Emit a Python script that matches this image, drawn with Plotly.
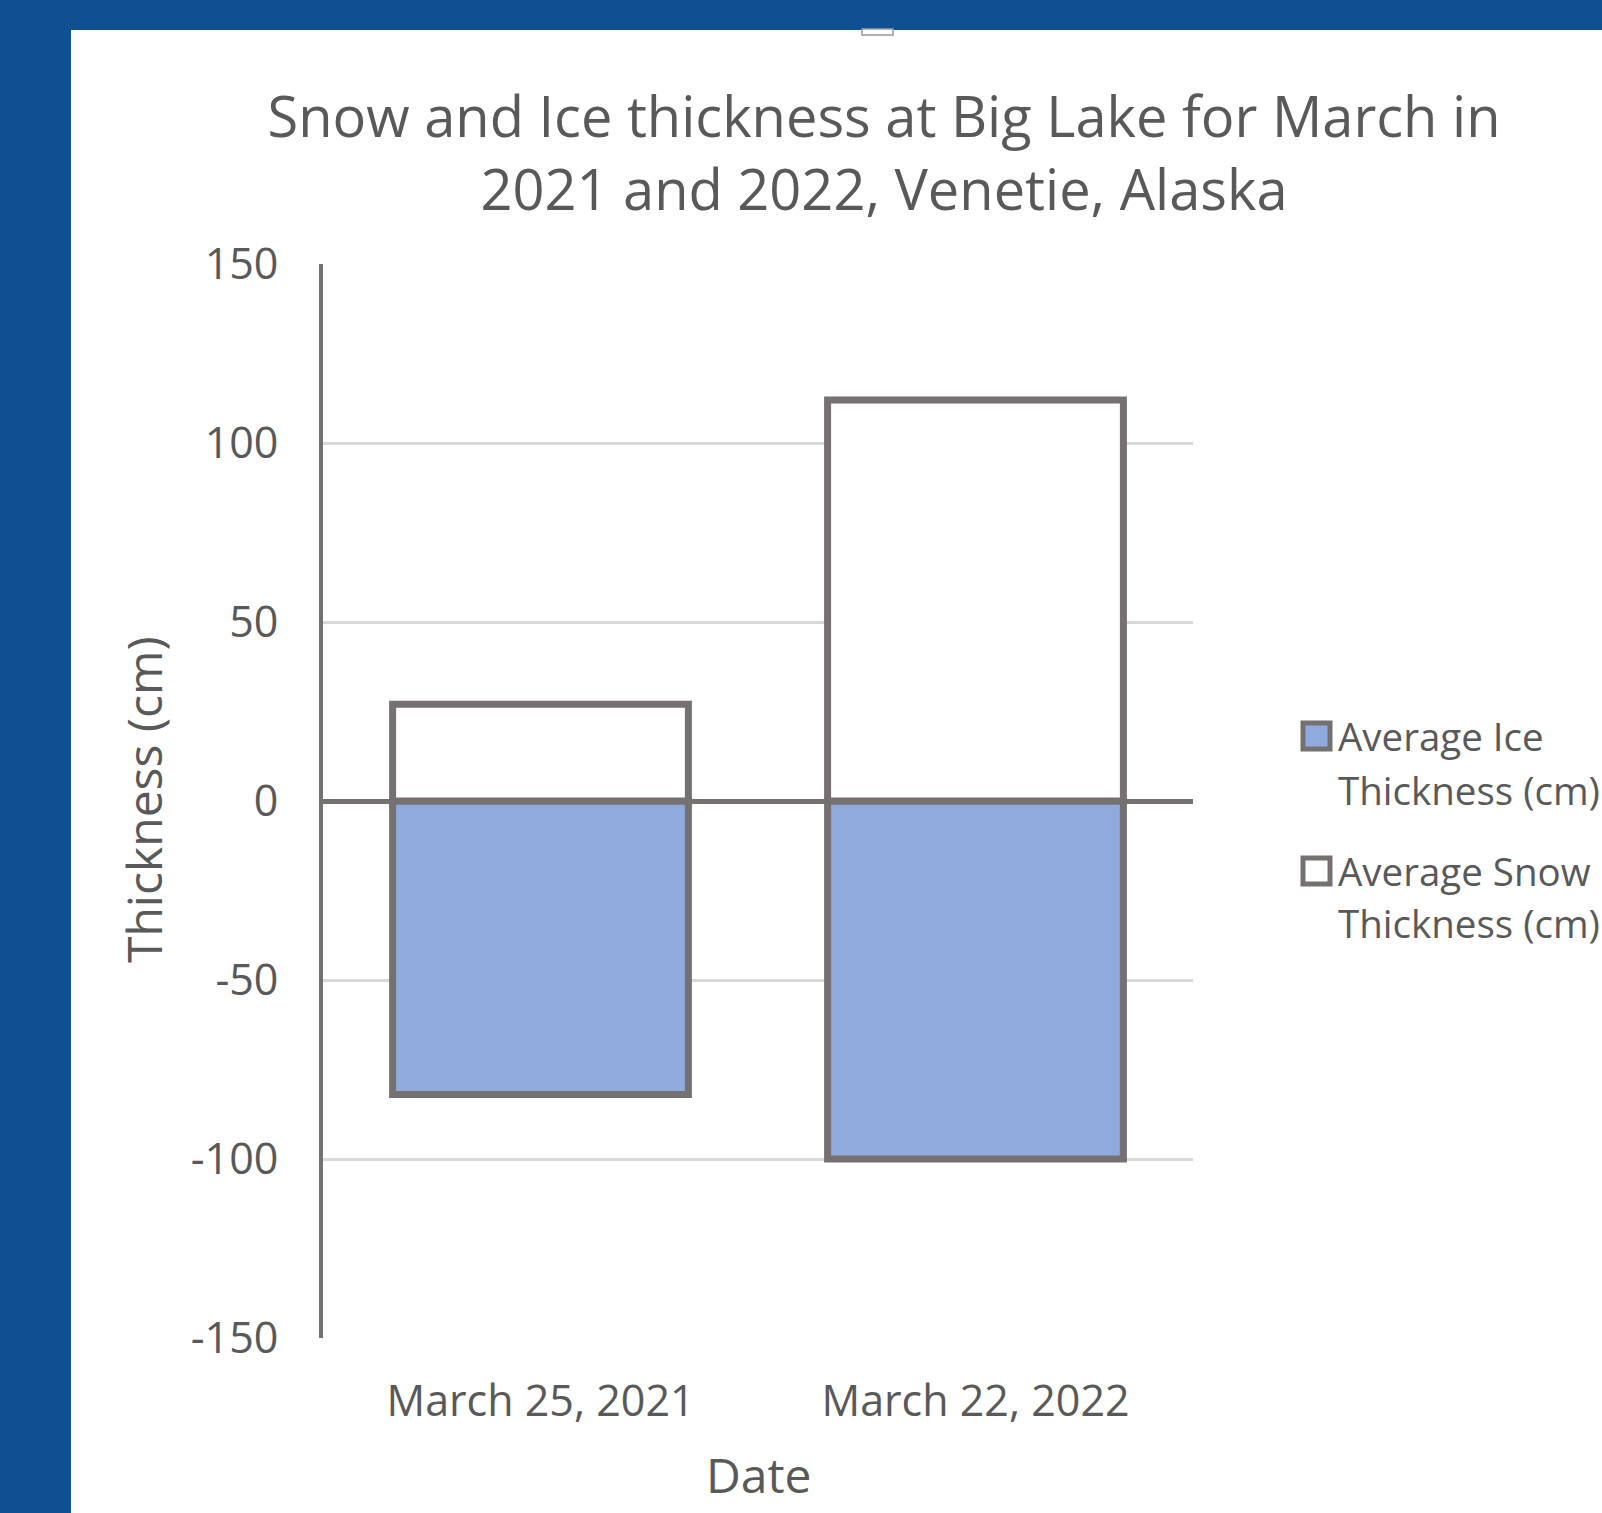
import plotly.graph_objects as go

# Survey dates and average thicknesses (cm); ice is plotted below the zero line
dates = ["March 25, 2021", "March 22, 2022"]
ice_thickness = [-82, -100]
snow_thickness = [27, 112]
series_names = [["Average Ice", "Thickness (cm)"], ["Average Snow", "Thickness (cm)"]]
y_ticks = [-150, -100, -50, 0, 50, 100, 150]
y_tick_text = ["-150", "-100", "-50", "0", "50", "100", "150"]

W, H = 1602, 1513
ML, MR, MT, MB = 323, 409, 264, 175
PW, PH = W - ML - MR, H - MT - MB

FONT = "Open Sans"
TXT = "#595959"
EDGE = "#767171"
ICE_FILL = "#8FAADC"
FRAME = "#0E5092"


def px_x(px):
    return (px - ML) / PW


def px_y(py):
    return (H - MB - py) / PH


fig = go.Figure()
fig.add_bar(x=dates, y=ice_thickness, name=" ".join(series_names[0]),
            marker=dict(color=ICE_FILL, line=dict(color=EDGE, width=7)))
fig.add_bar(x=dates, y=snow_thickness, name=" ".join(series_names[1]),
            marker=dict(color="white", line=dict(color=EDGE, width=7)))

shapes = [
    # dark blue frame around the slide area
    dict(type="rect", xref="paper", yref="paper", x0=px_x(0), x1=px_x(71),
         y0=px_y(H), y1=px_y(0), fillcolor=FRAME, line=dict(width=0), layer="below"),
    dict(type="rect", xref="paper", yref="paper", x0=px_x(0), x1=px_x(W),
         y0=px_y(30), y1=px_y(0), fillcolor=FRAME, line=dict(width=0), layer="below"),
    # small resize handle on the top edge
    dict(type="rect", xref="paper", yref="paper", x0=px_x(862), x1=px_x(893),
         y0=px_y(35), y1=px_y(29), fillcolor="white", line=dict(color="#9a9a9a", width=1.5)),
]

annotations = [
    dict(text="Thickness (cm)", xref="paper", yref="paper", x=px_x(143), y=px_y(800),
         textangle=-90, showarrow=False, xanchor="center", yanchor="middle",
         font=dict(family=FONT, size=48, color=TXT)),
    dict(text="Date", xref="paper", yref="paper", x=px_x(759), y=px_y(1474),
         showarrow=False, xanchor="center", yanchor="middle",
         font=dict(family=FONT, size=48, color=TXT)),
]

# legend: square swatches with two-line labels
legend_rows = [(ICE_FILL, 736, 790), ("white", 871, 923)]
for lines, (fill, y1, y2) in zip(series_names, legend_rows):
    shapes.append(dict(type="rect", xref="paper", yref="paper",
                       x0=px_x(1303), x1=px_x(1330), y0=px_y(y1 + 13), y1=px_y(y1 - 13),
                       fillcolor=fill, line=dict(color=EDGE, width=5)))
    for text, yy in zip(lines, (y1, y2)):
        annotations.append(dict(text=text, xref="paper", yref="paper", x=px_x(1336),
                                y=px_y(yy), showarrow=False, xanchor="left",
                                yanchor="middle", align="left",
                                font=dict(family=FONT, size=38.5, color=TXT)))

fig.update_layout(
    width=W, height=H,
    margin=dict(l=ML, r=MR, t=MT, b=MB),
    paper_bgcolor="white", plot_bgcolor="white",
    barmode="relative", bargap=0.32,
    showlegend=False,
    title=dict(text="Snow and Ice thickness at Big Lake for March in<br>2021 and 2022, Venetie, Alaska",
               xref="paper", x=px_x(884), xanchor="center",
               yref="container", y=1 - 137 / H, yanchor="middle",
               font=dict(family=FONT, size=56, color=TXT)),
    shapes=shapes,
    annotations=annotations,
)

fig.update_xaxes(showgrid=False, showline=False, ticks="", zeroline=False,
                 tickfont=dict(family=FONT, size=43, color=TXT), ticklabelstandoff=34)
fig.update_yaxes(range=[-150, 150], tickvals=y_ticks, ticktext=y_tick_text, showgrid=True,
                 gridcolor="#d9d9d9", gridwidth=2.5,
                 zeroline=True, zerolinecolor=EDGE, zerolinewidth=5,
                 showline=True, linecolor=EDGE, linewidth=4, ticks="",
                 tickfont=dict(family=FONT, size=43, color=TXT), ticklabelstandoff=32)

fig.write_html("out.html")
